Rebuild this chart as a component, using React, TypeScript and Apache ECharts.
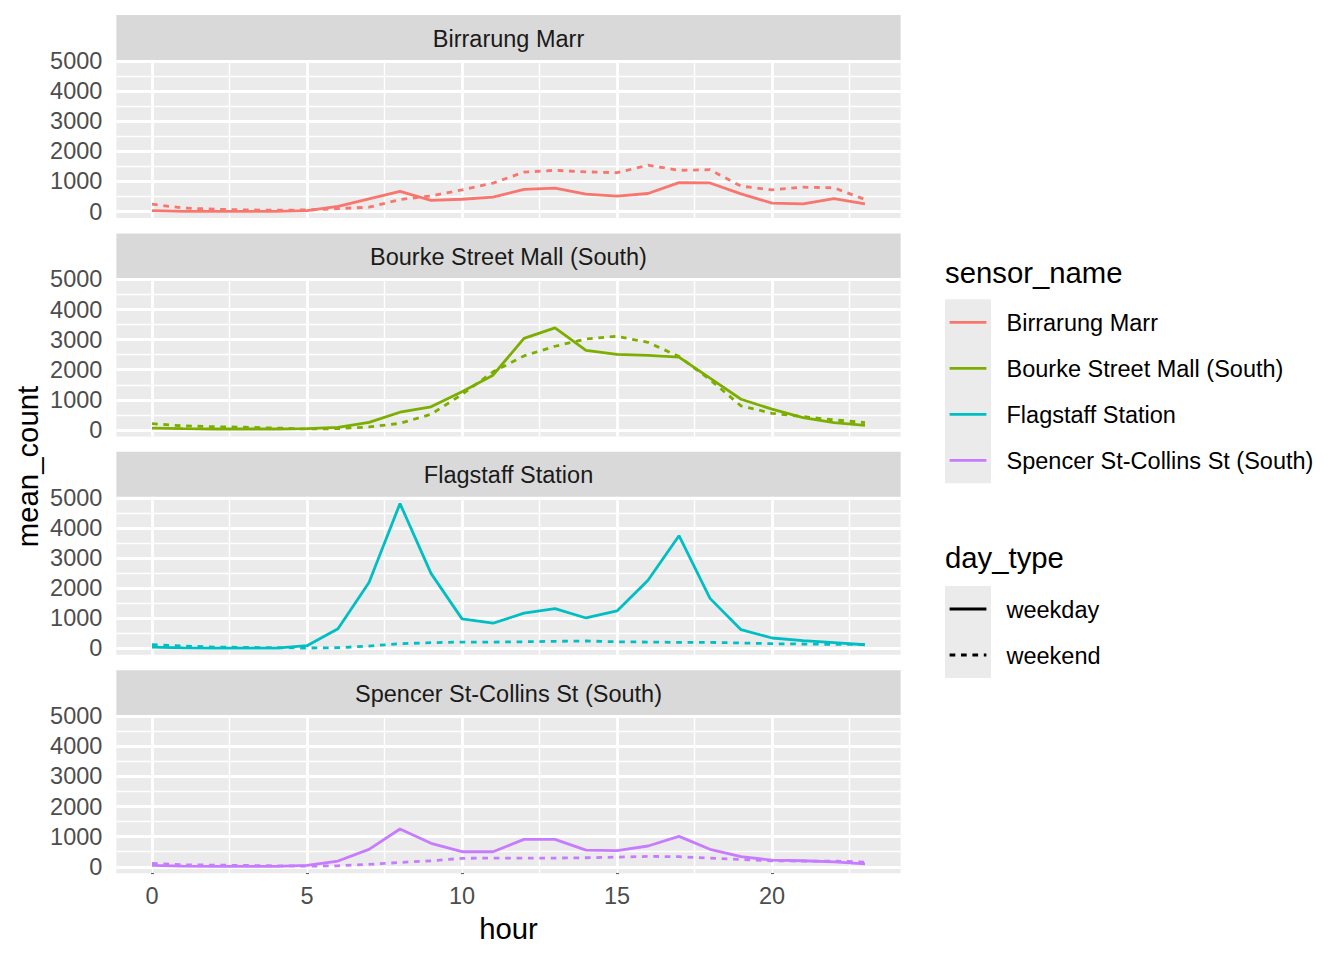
import React, { useEffect, useRef } from "react";
import * as echarts from "echarts";

const hours = [0, 1, 2, 3, 4, 5, 6, 7, 8, 9, 10, 11, 12, 13, 14, 15, 16, 17, 18, 19, 20, 21, 22, 23];

const sensorNames = [
  "Birrarung Marr",
  "Bourke Street Mall (South)",
  "Flagstaff Station",
  "Spencer St-Collins St (South)",
];
const dayTypes = ["weekday", "weekend"];

const birrarungWeekday = [30, 10, 5, 5, 5, 30, 170, 420, 670, 370, 410, 480, 740, 780, 580, 510, 600, 960, 950, 590, 280, 255, 430, 255];
const birrarungWeekend = [245, 120, 80, 55, 45, 55, 100, 145, 400, 520, 720, 945, 1310, 1370, 1320, 1290, 1540, 1370, 1390, 845, 720, 810, 790, 400];
const bourkeWeekday = [65, 45, 33, 33, 33, 45, 90, 255, 590, 770, 1270, 1820, 3040, 3390, 2640, 2510, 2480, 2420, 1720, 1020, 690, 410, 245, 155];
const bourkeWeekend = [210, 135, 110, 90, 65, 33, 45, 100, 220, 520, 1180, 1930, 2460, 2780, 3020, 3110, 2910, 2440, 1670, 800, 555, 445, 335, 245];
const flagstaffWeekday = [45, 20, 10, 10, 10, 90, 655, 2190, 4810, 2490, 980, 835, 1170, 1320, 1010, 1245, 2260, 3740, 1660, 620, 345, 255, 190, 120];
const flagstaffWeekend = [120, 78, 45, 33, 22, 11, 22, 78, 155, 190, 210, 210, 220, 235, 245, 220, 210, 200, 200, 180, 155, 145, 135, 135];
const spencerWeekday = [45, 22, 11, 11, 11, 45, 190, 580, 1255, 780, 500, 500, 910, 910, 555, 535, 690, 1010, 580, 335, 220, 200, 165, 100];
const spencerWeekend = [110, 67, 55, 45, 33, 22, 33, 78, 145, 200, 280, 290, 290, 290, 300, 320, 345, 335, 290, 245, 200, 190, 190, 155];

const weekdaySeries = [birrarungWeekday, bourkeWeekday, flagstaffWeekday, spencerWeekday];
const weekendSeries = [birrarungWeekend, bourkeWeekend, flagstaffWeekend, spencerWeekend];

const xTicks = [0, 5, 10, 15, 20];
const xMinor = [2.5, 7.5, 12.5, 17.5, 22.5];
const yTicks = [0, 1000, 2000, 3000, 4000, 5000];
const yMinor = [500, 1500, 2500, 3500, 4500];

const colors = ["#F8766D", "#7CAE00", "#00BFC4", "#C77CFF"];

const FONT = "'Liberation Sans', Arial, Helvetica, sans-serif";
const PL = 116.35;
const PW = 784.3;
const STRIP0 = 15;
const PERIOD = 218.4;
const STRIPH = 45;
const PH = 158;
const DASH = [5.7, 5.7];
const LW = 2.8;

function txt(text: string, x: number, y: number, size: number, fill: string, align = "left", rotation = 0) {
  return {
    type: "text",
    x,
    y,
    rotation,
    silent: true,
    style: {
      text,
      fontSize: size,
      fontFamily: FONT,
      fill,
      align,
      textAlign: align,
      verticalAlign: "middle",
      textVerticalAlign: "middle",
    },
  };
}

export default function App() {
  const ref = useRef<HTMLDivElement>(null);
  useEffect(() => {
    if (!ref.current) return;
    const chart = echarts.init(ref.current, undefined, { renderer: "svg" });

    const grids: any[] = [];
    const xAxes: any[] = [];
    const yAxes: any[] = [];
    const series: any[] = [];
    const graphics: any[] = [];

    sensorNames.forEach((name, i) => {
      const stripTop = STRIP0 + i * PERIOD;
      const gTop = stripTop + STRIPH;
      const isBottom = i === sensorNames.length - 1;
      grids.push({
        left: PL,
        top: gTop,
        width: PW,
        height: PH,
        show: true,
        backgroundColor: "#EBEBEB",
        borderWidth: 0,
      });
      xAxes.push({
        type: "value",
        gridIndex: i,
        min: -1.15,
        max: 24.15,
        axisLine: { show: false },
        splitLine: { show: false },
        axisTick: {
          show: isBottom,
          customValues: xTicks,
          length: 7.3,
          lineStyle: { color: "#333333", width: LW },
        },
        axisLabel: {
          show: isBottom,
          customValues: xTicks,
          formatter: (v: number) => String(v),
          margin: 11,
          color: "#4D4D4D",
          fontSize: 23.5,
          fontFamily: FONT,
        },
      });
      yAxes.push({
        type: "value",
        gridIndex: i,
        min: -213,
        max: 5033,
        axisLine: { show: false },
        splitLine: { show: false },
        axisTick: {
          show: true,
          customValues: yTicks,
          length: 7.3,
          lineStyle: { color: "#333333", width: LW },
        },
        axisLabel: {
          customValues: yTicks,
          formatter: (v: number) => String(v),
          margin: 14,
          color: "#4D4D4D",
          fontSize: 23.5,
          fontFamily: FONT,
        },
      });
      const ml = (key: string, v: number, w: number) => ({
        [key]: v,
        lineStyle: { color: "#FFFFFF", width: w, type: "solid", opacity: 1 },
      });
      series.push({
        type: "line",
        xAxisIndex: i,
        yAxisIndex: i,
        data: [],
        z: 1,
        silent: true,
        markLine: {
          z: 1,
          silent: true,
          symbol: ["none", "none"],
          label: { show: false },
          emphasis: { disabled: true },
          data: [
            ...xMinor.map((v) => ml("xAxis", v, 1.4)),
            ...yMinor.map((v) => ml("yAxis", v, 1.4)),
            ...xTicks.map((v) => ml("xAxis", v, LW)),
            ...yTicks.map((v) => ml("yAxis", v, LW)),
          ],
        },
      });
      [weekdaySeries[i], weekendSeries[i]].forEach((vals, d) => {
        series.push({
          type: "line",
          name: name + " " + dayTypes[d],
          xAxisIndex: i,
          yAxisIndex: i,
          data: hours.map((h, k) => [h, vals[k]]),
          showSymbol: false,
          symbol: "none",
          silent: true,
          z: 10,
          itemStyle: { color: colors[i] },
          lineStyle: { color: colors[i], width: LW, type: d === 0 ? "solid" : DASH },
        });
      });
      graphics.push({
        type: "rect",
        silent: true,
        shape: { x: PL, y: stripTop, width: PW, height: STRIPH },
        style: { fill: "#D9D9D9" },
      });
      graphics.push(txt(name, PL + PW / 2, stripTop + STRIPH / 2 + 1, 23.5, "#1A1A1A", "center"));
    });

    // axis titles
    graphics.push(txt("hour", PL + PW / 2, 928.5, 29.3, "#000000", "center"));
    graphics.push(txt("mean_count", 27.5, 466.5, 29.3, "#000000", "center", Math.PI / 2));

    // legend: sensor_name
    graphics.push(txt("sensor_name", 945, 272, 29.3, "#000000", "left"));
    graphics.push({
      type: "rect",
      silent: true,
      shape: { x: 945, y: 299.3, width: 46, height: 46 * 4 },
      style: { fill: "#EBEBEB" },
    });
    sensorNames.forEach((name, i) => {
      const cy = 322.3 + i * 46;
      graphics.push({
        type: "line",
        silent: true,
        shape: { x1: 949.6, y1: cy, x2: 986.4, y2: cy },
        style: { stroke: colors[i], lineWidth: LW },
      });
      graphics.push(txt(name, 1006.5, cy + 1, 23.5, "#000000", "left"));
    });

    // legend: day_type
    graphics.push(txt("day_type", 945, 557, 29.3, "#000000", "left"));
    graphics.push({
      type: "rect",
      silent: true,
      shape: { x: 945, y: 586, width: 46, height: 46 * 2 },
      style: { fill: "#EBEBEB" },
    });
    dayTypes.forEach((dt, d) => {
      const cy = 609 + d * 46;
      graphics.push({
        type: "line",
        silent: true,
        shape: { x1: 949.6, y1: cy, x2: 986.4, y2: cy },
        style: { stroke: "#000000", lineWidth: LW, lineDash: d === 0 ? null : DASH },
      });
      graphics.push(txt(dt, 1006.5, cy + 1, 23.5, "#000000", "left"));
    });

    chart.setOption({
      animation: false,
      backgroundColor: "#FFFFFF",
      grid: grids,
      xAxis: xAxes,
      yAxis: yAxes,
      series,
      graphic: { elements: graphics },
    });
    return () => chart.dispose();
  }, []);

  return (
    <div
      ref={ref}
      style={{ position: "fixed", left: 0, top: 0, width: 1344, height: 960 }}
    />
  );
}
